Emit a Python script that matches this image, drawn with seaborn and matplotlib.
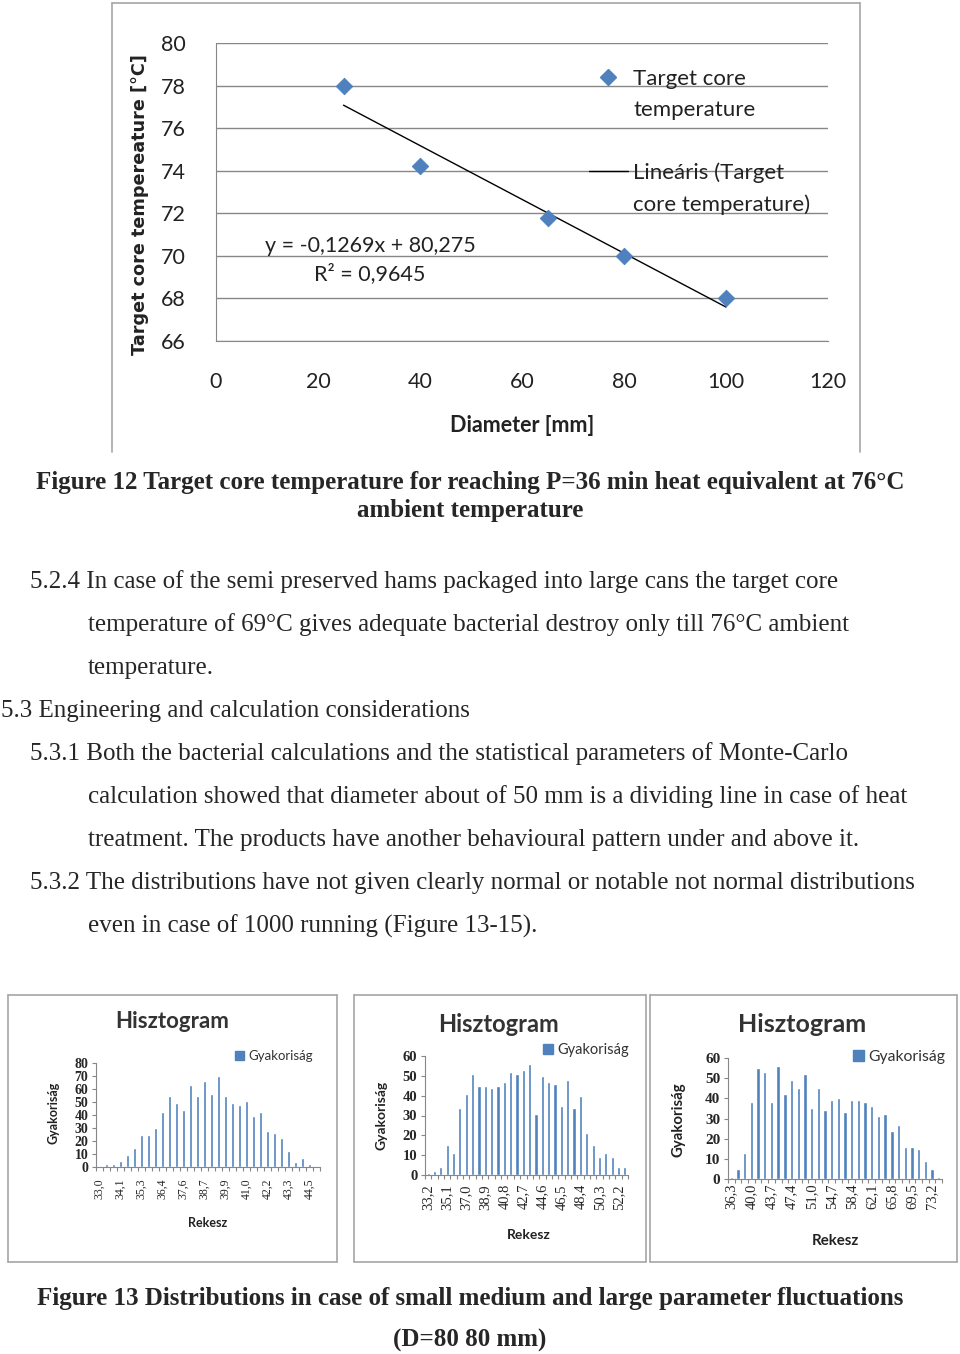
import matplotlib
matplotlib.use("Agg")
import matplotlib.pyplot as plt
import seaborn as sns
import numpy as np
from matplotlib.patches import Rectangle
from matplotlib.lines import Line2D

# --- data -------------------------------------------------------------
diameter = [25, 40, 65, 80, 100]
core_temp = [78.0, 74.2, 71.8, 70.0, 68.0]

# histograms (Gyakoriság per Rekesz), labels shown on every 3rd bin
hist_small = [0.5, 2, 2, 5, 9, 15, 25, 25, 30, 42, 55, 49, 44, 63, 55, 66,
              56, 70, 55, 49, 48, 51, 39, 42, 28, 26, 22, 12, 4, 7, 2, 1]
labels_small = ["33,0", "34,1", "35,3", "36,4", "37,6", "38,7",
                "39,9", "41,0", "42,2", "43,3", "44,5"]

hist_medium = [1, 2, 4, 15, 11, 34, 41, 51, 45, 45, 44, 45, 47, 52, 51, 53,
               56, 31, 50, 47, 46, 35, 48, 34, 40, 21, 15, 9, 11, 9, 4, 4]
labels_medium = ["33,2", "35,1", "37,0", "38,9", "40,8", "42,7",
                 "44,6", "46,5", "48,4", "50,3", "52,2"]

hist_large = [1, 5, 13, 38, 55, 53, 38, 56, 42, 49, 45, 52, 35, 45, 34, 39,
              40, 33, 39, 39, 38, 36, 31, 32, 24, 27, 16, 16, 15, 9, 5, 1]
labels_large = ["36,3", "40,0", "43,7", "47,4", "51,0", "54,7",
                "58,4", "62,1", "65,8", "69,5", "73,2"]

BLUE = "#4F81BD"
SANS = ["Lato", "DejaVu Sans"]
SERIF = ["Liberation Serif", "DejaVu Serif"]
W, H = 960, 1354

sns.set_style("white")
plt.rcParams["font.family"] = SANS

fig = plt.figure(figsize=(W / 100, H / 100), dpi=100)


def box(x0, y0, x1, y1):
    # pixel box (top-left origin) -> figure fractions
    return [x0 / W, 1 - y1 / H, (x1 - x0) / W, (y1 - y0) / H]


def ftext(x, y, s, **kw):
    kw.setdefault("va", "center")
    fig.text(x / W, 1 - y / H, s, **kw)


def frame(x0, y0, x1, y1, color="#A6A6A6", sides="tblr"):
    pts = {"t": ([x0, x1], [y0, y0]), "b": ([x0, x1], [y1, y1]),
           "l": ([x0, x0], [y0, y1]), "r": ([x1, x1], [y0, y1])}
    for s in sides:
        xs, ys = pts[s]
        fig.add_artist(Line2D([v / W for v in xs], [1 - v / H for v in ys],
                              color=color, lw=1.2))


# --- Figure 12: scatter + linear trend ---------------------------------
frame(112, 3, 860, 452, sides="tlr")
ax = fig.add_axes(box(216, 43, 828, 341))
sns.regplot(x=diameter, y=core_temp, ax=ax, ci=None, scatter=False,
            line_kws=dict(color="black", lw=1))
sns.scatterplot(x=diameter, y=core_temp, ax=ax, marker="D", s=70,
                color=BLUE, edgecolor=BLUE, zorder=3)
ax.set_xlim(0, 120)
ax.set_ylim(66, 80)
ax.set_xticks(range(0, 121, 20))
ax.set_yticks(range(66, 81, 2))
ax.yaxis.grid(True, color="#878787", lw=1)
for s in ["top", "right"]:
    ax.spines[s].set_visible(False)
ax.spines["left"].set_color("#878787")
ax.spines["bottom"].set_color("#878787")
ax.tick_params(axis="x", length=0, pad=22.5, labelsize=15.5, colors="#222222")
ax.tick_params(axis="y", length=0, pad=22, labelsize=15.5, colors="#222222")

# legend rows: marker / wrap / gap / line / wrap
blank = Line2D([], [], ls="none")
handles = [Line2D([], [], marker="D", ls="none", color=BLUE, markersize=8),
           blank, blank, Line2D([], [], color="black", lw=1), blank]
leg_labels = ["Target core", "temperature", " ", "Lineáris (Target",
              "core temperature)"]
ax.legend(handles, leg_labels,
          loc="upper left", bbox_to_anchor=(589 / W, 1 - 69 / H),
          bbox_transform=fig.transFigure, frameon=False, fontsize=16,
          handlelength=1.75, handletextpad=0.25, labelspacing=0.5,
          borderpad=0, borderaxespad=0, labelcolor="#222222")

ftext(370, 260, "y = -0,1269x + 80,275\nR² = 0,9645", ha="center",
      fontsize=15.5, color="#222222", linespacing=1.45)
ftext(522, 426, "Diameter [mm]", ha="center", fontsize=15.5,
      fontweight="bold", color="#222222")
ftext(140, 205, "Target core tempereature [°C]", ha="center", rotation=90,
      fontsize=12.7, fontweight="bold", family=["DejaVu Sans"], color="#222222")

# --- captions and body text --------------------------------------------
cap = dict(family=SERIF, fontweight="bold", fontsize=18, ha="center")
ftext(470, 482, "Figure 12 Target core temperature for reaching P=36 min heat "
      "equivalent at 76°C", **cap)
ftext(470, 511, "ambient temperature", **cap)

body = dict(family=SERIF, fontsize=18, ha="left")
lines = [
    (30, 582, "5.2.4 In case of the semi preserved hams packaged into large cans the target core"),
    (88, 625, "temperature of 69°C gives adequate bacterial destroy only till 76°C ambient"),
    (88, 668, "temperature."),
    (1, 711, "5.3 Engineering and calculation considerations"),
    (30, 754, "5.3.1 Both the bacterial calculations and the statistical parameters of Monte-Carlo"),
    (88, 797, "calculation showed that diameter about of 50 mm is a dividing line in case of heat"),
    (88, 840, "treatment. The products have another behavioural pattern under and above it."),
    (30, 883, "5.3.2 The distributions have not given clearly normal or notable not normal distributions"),
    (88, 926, "even in case of 1000 running (Figure 13-15)."),
]
for x, y, s in lines:
    ftext(x, y, s, **body)

ftext(470, 1298, "Figure 13 Distributions in case of small medium and large "
      "parameter fluctuations", **cap)
ftext(470, 1340, "(D=80 80 mm)", **cap)

# --- Figure 13: three histograms ---------------------------------------
panels = [
    dict(vals=hist_small, labels=labels_small, ymax=80, frame=(8, 995, 337, 1262),
         ax=(96, 1063, 320, 1167), title=(172, 1022), ylab=(53, 1113),
         xlab=(208, 1223), leg=(235, 1056), fs=9, yfs=10, xfs=8.5, xpad=8,
         tfs=16),
    dict(vals=hist_medium, labels=labels_medium, ymax=60, frame=(354, 995, 646, 1262),
         ax=(425, 1056, 628, 1175), title=(499, 1024), ylab=(381, 1115),
         xlab=(529, 1235), leg=(543, 1050), fs=10, yfs=10.5, xfs=10.5, xpad=6.5,
         tfs=17),
    dict(vals=hist_large, labels=labels_large, ymax=60, frame=(650, 995, 957, 1262),
         ax=(728, 1058, 942, 1179), title=(802, 1025), ylab=(678, 1120),
         xlab=(835, 1241), leg=(853, 1057), fs=10.8, yfs=11, xfs=10.5, xpad=3.5,
         tfs=18),
]

for p in panels:
    frame(*p["frame"])
    hx = fig.add_axes(box(*p["ax"]))
    n = len(p["vals"])
    sns.barplot(x=np.arange(n), y=p["vals"], ax=hx, color=BLUE, width=0.5,
                saturation=1)
    hx.set_xlim(-0.5, n - 0.5)
    hx.set_ylim(0, p["ymax"])
    hx.set_yticks(range(0, p["ymax"] + 1, 10))
    hx.set_xticks(np.arange(0, n, 3))
    hx.set_xticklabels(p["labels"], rotation=90, family=SERIF, fontsize=p["xfs"])
    hx.set_xticks(np.arange(n + 1) - 0.5, minor=True)
    for lab in hx.get_yticklabels():
        lab.set_family(SERIF)
        lab.set_fontweight("bold")
    hx.tick_params(axis="y", labelsize=p["yfs"], length=3, width=0.8,
                   color="#878787", pad=2.5, left=True)
    hx.tick_params(axis="x", which="major", length=0, pad=p["xpad"])
    hx.tick_params(axis="x", which="minor", length=3, width=0.8,
                   color="#878787", bottom=True)
    for s in ["top", "right"]:
        hx.spines[s].set_visible(False)
    hx.spines["left"].set_color("#878787")
    hx.spines["bottom"].set_color("#878787")
    hx.set_xlabel("")
    hx.set_ylabel("")

    hx.legend([Rectangle((0, 0), 1, 1, color=BLUE)], ["Gyakoriság"],
              loc="center left", bbox_to_anchor=(p["leg"][0] / W, 1 - p["leg"][1] / H),
              bbox_transform=fig.transFigure, frameon=False, fontsize=p["fs"] + 0.5,
              handlelength=0.7, handleheight=0.7, handletextpad=0.3,
              borderpad=0, borderaxespad=0, labelcolor="#333333")

    ftext(*p["title"], "Hisztogram", ha="center", fontsize=p["tfs"],
          fontweight="bold", color="#333333")
    ftext(*p["ylab"], "Gyakoriság", ha="center", rotation=90,
          fontsize=p["fs"], fontweight="bold", color="#222222")
    ftext(*p["xlab"], "Rekesz", ha="center", fontsize=p["fs"],
          fontweight="bold", color="#222222")

fig.savefig("out.png", dpi=100)
